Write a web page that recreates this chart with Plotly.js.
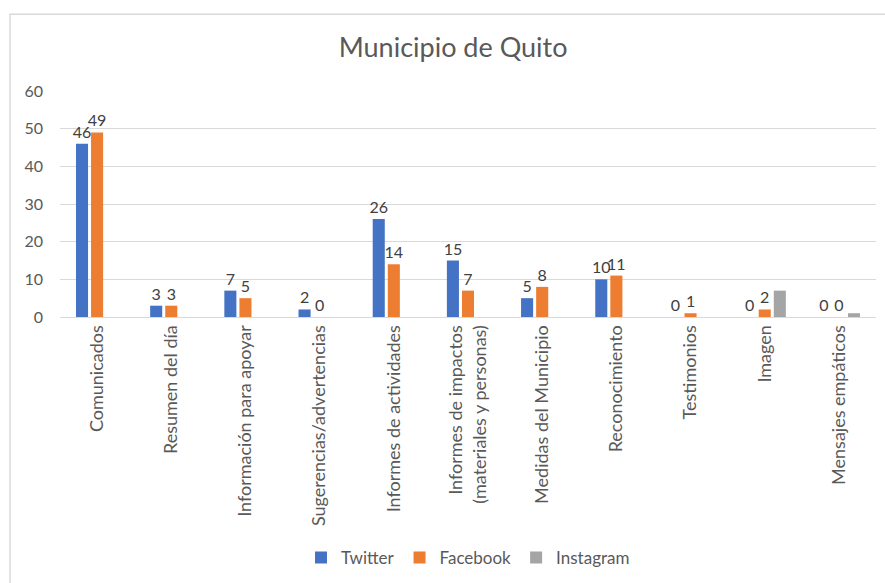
<!DOCTYPE html>
<html>
<head>
<meta charset="utf-8">
<script src="https://cdn.plot.ly/plotly-3.0.1.min.js"></script>
<style>html,body{margin:0;padding:0;background:#fff;}#chart{width:885px;height:583px;}</style>
</head>
<body>
<div id="chart"></div>
<script>
const categories = [
  "Comunicados",
  "Resumen del día",
  "Información para apoyar",
  "Sugerencias/advertencias",
  "Informes de actividades",
  "Informes de impactos<br>(materiales y personas)",
  "Medidas del Municipio",
  "Reconocimiento",
  "Testimonios",
  "Imagen",
  "Mensajes empáticos"
];
const twitter   = [46, 3, 7, 2, 26, 15, 5, 10, 0, 0, 0];
const facebook  = [49, 3, 5, 0, 14, 7, 8, 11, 1, 2, 0];
const instagram = [0, 0, 0, 0, 0, 0, 0, 0, 0, 7, 1];
const yTicks = [0, 10, 20, 30, 40, 50, 60];

const FONT = "Lato, 'Open Sans', sans-serif";
const GRAY = "#595959";
const labelFont = {family: FONT, size: 16, color: "#404040"};

const traces = [
  {type: "bar", name: "Twitter", x: categories, y: twitter, marker: {color: "#4472C4"},
   text: twitter.map(String), textposition: "outside", textfont: labelFont, constraintext: "none", cliponaxis: false, hoverinfo: "y"},
  {type: "bar", name: "Facebook", x: categories, y: facebook, marker: {color: "#ED7D31"},
   text: facebook.map(String), textposition: "outside", textfont: labelFont, constraintext: "none", cliponaxis: false, hoverinfo: "y"},
  {type: "bar", name: "Instagram", x: categories, y: instagram, marker: {color: "#A5A5A5"},
   textposition: "none", hoverinfo: "y"}
];

const layout = {
  width: 885, height: 583,
  margin: {l: 60, r: 9, t: 91, b: 265},
  paper_bgcolor: "#fff", plot_bgcolor: "#fff",
  font: {family: FONT, color: GRAY},
  title: {text: "Municipio de Quito", font: {family: FONT, size: 27, color: GRAY}, x: 0.512, xanchor: "center", y: 0.918, yanchor: "middle"},
  barmode: "group",
  bargap: 0.39,
  bargroupgap: 0.2,
  showlegend: true,
  legend: {orientation: "h", x: 0.5, xanchor: "center", y: -1.057, yanchor: "middle",
           font: {family: FONT, size: 17, color: GRAY}, itemwidth: 30, traceorder: "normal"},
  xaxis: {
    type: "category", tickangle: -90, tickfont: {family: FONT, size: 18, color: GRAY},
    showline: true, linecolor: "#d9d9d9", linewidth: 1, ticks: "", showgrid: false, fixedrange: true
  },
  yaxis: {
    range: [0, 60], tickvals: yTicks, ticktext: yTicks.map(String),
    tickfont: {family: FONT, size: 16, color: GRAY},
    showgrid: true, gridcolor: "#d9d9d9", gridwidth: 1, zeroline: false,
    showline: false, ticks: "", ticklabelstandoff: 16, fixedrange: true
  },
  shapes: [{
    type: "rect", xref: "paper", yref: "paper",
    x0: (10 - 60) / 816, x1: (900 - 60) / 816,
    y0: (318 - 600) / 227, y1: (318 - 14) / 227,
    line: {color: "#d9d9d9", width: 1.5}, fillcolor: "rgba(0,0,0,0)", layer: "below"
  }]
};

Plotly.newPlot("chart", traces, layout, {displayModeBar: false, staticPlot: true});
</script>
</body>
</html>
